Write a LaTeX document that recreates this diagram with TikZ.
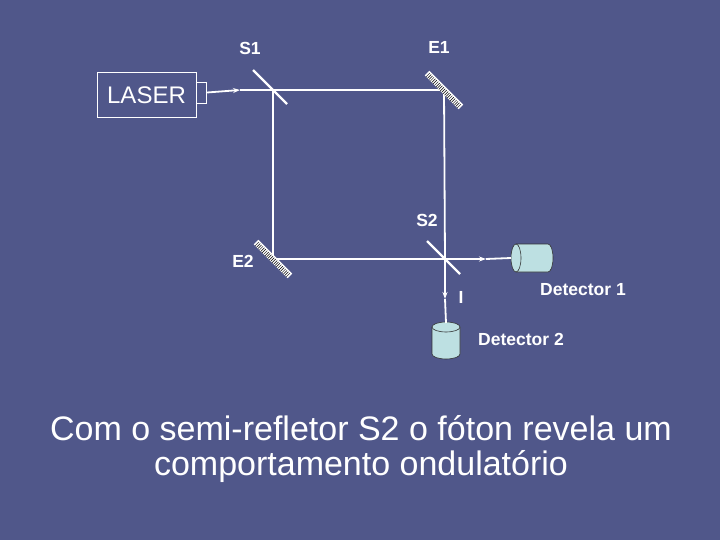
\documentclass[tikz,border=0pt]{standalone}
\usepackage{fontspec}
\setmainfont{Liberation Sans}
\usetikzlibrary{arrows.meta,calc}
\definecolor{bg}{HTML}{50578A}
\definecolor{cyl}{HTML}{BDE0E2}
\begin{document}
\begin{tikzpicture}[x=1pt,y=-1pt,
  beam/.style={white,line width=1.8pt},
  lbl/.style={white,font=\bfseries\fontsize{17.5}{19}\selectfont,inner sep=0pt},
  semi/.style={white,line width=2.2pt},
  cylstyle/.style={fill=cyl,draw=black!80,line width=0.6pt}]
\fill[bg] (0,0) rectangle (720,540);
\useasboundingbox (0,0) rectangle (720,540);
% laser
\node[draw=white,line width=0.8pt,minimum width=99pt,minimum height=45pt,inner sep=0pt,text=white,font=\fontsize{24}{26}\selectfont] (laser) at (146.5,95) {LASER};
\node[draw=white,line width=0.8pt,minimum width=10pt,minimum height=21pt,inner sep=0pt,anchor=west] (nozzle) at (laser.east |- 0,92.5) {};
\coordinate (s1) at (273,90);
\coordinate (e1) at (444,90);
\coordinate (e2) at (273,259);
\coordinate (s2) at (445,259);
\coordinate (a1) at (240,90);
\coordinate (a2) at (486,259);
\coordinate (a3) at (445,299);
\coordinate (d1) at (511,258);
\coordinate (d2) at (446,323);
% detector 1 (horizontal cylinder)
\fill[cyl] (516,244) -- (548,244) arc[start angle=90,end angle=-90,x radius=5,y radius=-14] -- (516,272) -- cycle;
\draw[black!80,line width=0.6pt] (516,244) -- (548,244) arc[start angle=90,end angle=-90,x radius=5,y radius=-14] -- (516,272);
\draw[cylstyle] (516,258) ellipse[x radius=5,y radius=14];
% detector 2 (vertical cylinder)
\draw[cylstyle] (432,327) -- (432,354) arc[start angle=180,end angle=360,x radius=14,y radius=-5] -- (460,327);
\draw[cylstyle] (446,327) ellipse[x radius=14,y radius=5];
% beams
\draw[beam,-{Stealth[length=7pt,width=5pt]}] (nozzle.east) -- (a1);
\draw[beam] (a1) -- (s1) -- (e1) -- (s2) -- (e2) -- (s1);
\draw[beam,-{Stealth[length=7pt,width=5pt]}] (s2) -- (a2);
\draw[beam] (a2) -- (d1);
\draw[beam,-{Stealth[length=7pt,width=5pt]}] (s2) -- (a3);
\draw[beam] (a3) -- (d2);
% semi mirrors
\draw[semi] ($(s1)+(-20,-20)$) -- ($(s1)+(14,14)$);
\draw[semi] ($(s2)+(-18,-18)$) -- ($(s2)+(15,15)$);
% full mirrors
\foreach \c in {e1,e2}{
  \begin{scope}[shift={(\c)},rotate=-45]
    \fill[white] (-24,-3.2) rectangle (24,3.2);
    \foreach \k in {-22,-20,...,22} \draw[black,line width=0.5pt] (\k,-1.8) -- (\k,3.2);
  \end{scope}}
% labels
\node[lbl] (ls1) at (250,48) {S1};
\node[lbl] (le1) at (439,47) {E1};
\node[lbl] (ls2) at (427,220) {S2};
\node[lbl] (le2) at (243,261) {E2};
\node[lbl] (li) at (461,297) {I};
\node[lbl] (ld1) at (583,290) {Detector 1};
\node[lbl] (ld2) at (521,339) {Detector 2};
\node[text=white,align=center,font=\fontsize{34}{35}\selectfont] (cap) at (361,449) {Com o semi-refletor S2 o fóton revela um\\comportamento ondulatório};
\end{tikzpicture}
\end{document}
